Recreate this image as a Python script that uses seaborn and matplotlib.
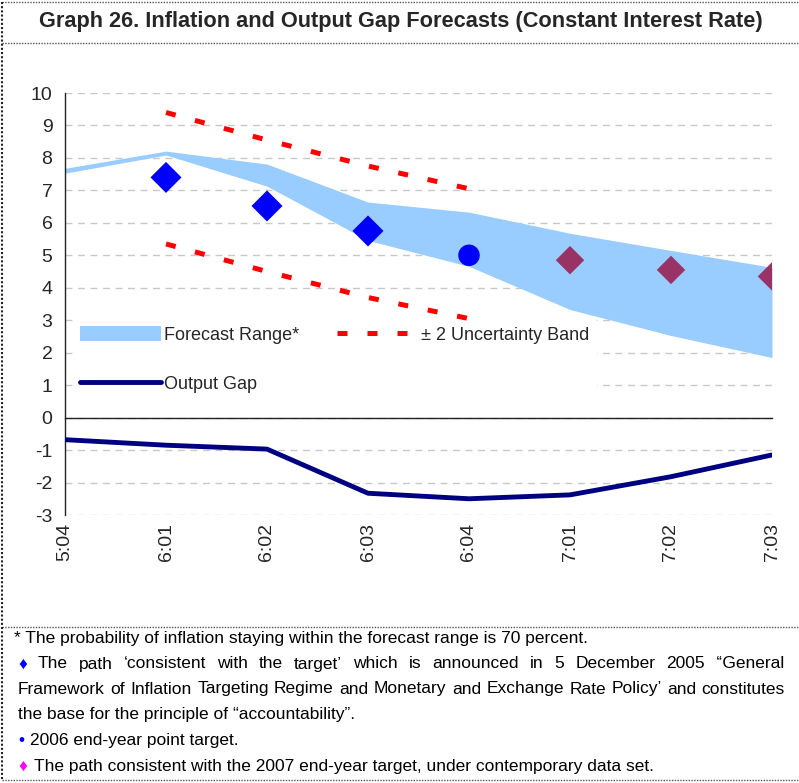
import numpy as np
import pandas as pd
import seaborn as sns
import matplotlib
matplotlib.use("Agg")
from matplotlib import pyplot as plt
from matplotlib.lines import Line2D
from matplotlib.patches import Patch

quarters = ["5:04", "6:01", "6:02", "6:03", "6:04", "7:01", "7:02", "7:03"]
range_upper = [7.68, 8.21, 7.81, 6.64, 6.33, 5.68, 5.15, 4.63]
range_lower = [7.53, 8.09, 7.13, 5.46, 4.66, 3.33, 2.53, 1.85]
band_upper = [np.nan, 9.4, 8.55, 7.75, 7.05, np.nan, np.nan, np.nan]
band_lower = [np.nan, 5.35, 4.5, 3.7, 3.05, np.nan, np.nan, np.nan]
output_gap = [-0.68, -0.85, -0.97, -2.33, -2.5, -2.38, -1.82, -1.15]
target_path = [np.nan, 7.4, 6.52, 5.75, np.nan, np.nan, np.nan, np.nan]
point_target = [np.nan, np.nan, np.nan, np.nan, 5.0, np.nan, np.nan, np.nan]
target_2007 = [np.nan, np.nan, np.nan, np.nan, np.nan, 4.85, 4.55, 4.35]

df = pd.DataFrame({
    "q": np.arange(len(quarters)),
    "range_upper": range_upper, "range_lower": range_lower,
    "band_upper": band_upper, "band_lower": band_lower,
    "output_gap": output_gap, "target_path": target_path,
    "point_target": point_target, "target_2007": target_2007,
})

sns.set_style("white")
plt.rcParams["font.family"] = ["Liberation Sans", "DejaVu Sans"]
narrow = ["Liberation Sans", "DejaVu Sans"]

fig = plt.figure(figsize=(7.99, 7.83), dpi=100)
ax = fig.add_axes([65 / 799, 1 - 515 / 783, 707 / 799, 422 / 783])

ax.fill_between(df["q"], df["range_lower"], df["range_upper"], color="#99ccff", lw=0, zorder=1)

red_dash = (0, (2.0, 4.0))
for col in ["band_upper", "band_lower"]:
    sns.lineplot(data=df, x="q", y=col, ax=ax, color="#ff0000", lw=3.6, zorder=3)
for l in ax.get_lines():
    l.set_linestyle(red_dash)

sns.lineplot(data=df, x="q", y="output_gap", ax=ax, color="#000080", lw=3.5, zorder=3)
sns.scatterplot(data=df, x="q", y="target_path", ax=ax, marker="D", s=250,
                color="#0000ff", edgecolor="none", zorder=4)
sns.scatterplot(data=df, x="q", y="point_target", ax=ax, marker="o", s=240,
                color="#0000ff", edgecolor="none", zorder=4)
sns.scatterplot(data=df, x="q", y="target_2007", ax=ax, marker="D", s=210,
                color="#993366", edgecolor="none", zorder=4)

ax.set_xlim(0, 7)
ax.set_ylim(-3, 10)
ax.set_yticks(range(-3, 11))
ax.set_yticklabels([str(v) for v in range(-3, 11)], fontsize=14)
ax.set_xticks(df["q"])
ax.set_xticklabels([])
ax.set_xlabel("")
ax.set_ylabel("")
for s in ["top", "right"]:
    ax.spines[s].set_visible(False)
ax.spines["bottom"].set_position(("data", 0))
for s in ["left", "bottom"]:
    ax.spines[s].set_color("#222222")
    ax.spines[s].set_linewidth(1.0)
ax.tick_params(axis="both", direction="out", length=5, width=1, color="#222222", pad=4)
ax.grid(axis="y", color="#c8c8c8", linestyle=(0, (5, 4)), lw=1)
ax.set_axisbelow(True)

sec = ax.secondary_xaxis(0.0)
sec.set_xticks(df["q"])
sec.set_xticklabels(quarters, rotation=90, fontsize=14)
sec.tick_params(length=0, pad=6)
sec.spines["bottom"].set_visible(False)

handles = [
    Patch(facecolor="#99ccff", edgecolor="none", label="Forecast Range*"),
    Line2D([], [], color="#000080", lw=3.5, label="Output Gap"),
    Line2D([], [], color="#ff0000", lw=3.6, linestyle=red_dash, label="± 2 Uncertainty Band"),
]
leg = ax.legend(handles=handles, ncol=2, loc="upper left", bbox_to_anchor=(0.011, 0.465),
                fontsize=13, frameon=True, facecolor="white", edgecolor="none",
                framealpha=1, handlelength=4.5, handleheight=0.9, handletextpad=0.15,
                columnspacing=2.1, labelspacing=1.75, borderaxespad=0, borderpad=0.4)
leg.set_zorder(2)

title = fig.text(0.502, 1 - 22 / 783, "Graph 26. Inflation and Output Gap Forecasts (Constant Interest Rate)",
                 ha="center", va="center", fontsize=17, fontweight="bold", family=narrow)

# dotted frame lines
for y in [2, 43, 627, 780]:
    fig.add_artist(Line2D([2 / 799, 1], [1 - y / 783] * 2, color="#555555", lw=1, ls=(0, (1, 1))))
fig.add_artist(Line2D([2 / 799] * 2, [1 - 2 / 783, 1 - 780 / 783], color="#222222", lw=1.5, ls=(0, (1, 1))))

fs = 12.5
fig.canvas.draw()
renderer = fig.canvas.get_renderer()

# shrink the title until it fits the band like the reference (about 727 px wide)
tw = title.get_window_extent(renderer).width
title.set_fontsize(17 * min(1.0, 727 / tw))


def put(x, y, s, color="black"):
    t = fig.text(x / 799, 1 - y / 783, s, fontsize=fs, family=narrow, color=color, va="center", ha="left")
    w = t.get_window_extent(renderer).width
    return t, w


def justified(y, parts, x0=18, x1=785):
    words = []
    for s, c in parts:
        for w in s.split():
            words.append((w, c))
    widths = []
    texts = []
    for w, c in words:
        t, wd = put(0, y, w, c)
        texts.append(t)
        widths.append(wd)
    gap = (x1 - x0 - sum(widths)) / (len(words) - 1)
    x = x0
    for t, wd in zip(texts, widths):
        t.set_x(x / 799)
        x += wd + gap


put(14, 638, "* The probability of inflation staying within the forecast range is 70 percent.")
justified(664, [("♦", "#0000ff"),
                ("The path ‘consistent with the target’ which is announced in 5 December 2005 ‘‘General", "black")])
justified(689, [("Framework of Inflation Targeting Regime and Monetary and Exchange Rate Policy’ and constitutes", "black")])
put(18, 714, "the base for the principle of “accountability”.")
put(18, 740, "•", "#0000ff")
put(30, 740, "2006 end-year point target.")
put(18, 766, "♦", "#ff00ff")
put(34, 766, "The path consistent with the 2007 end-year target, under contemporary data set.")

fig.savefig("out.png", dpi=100, facecolor="white")
